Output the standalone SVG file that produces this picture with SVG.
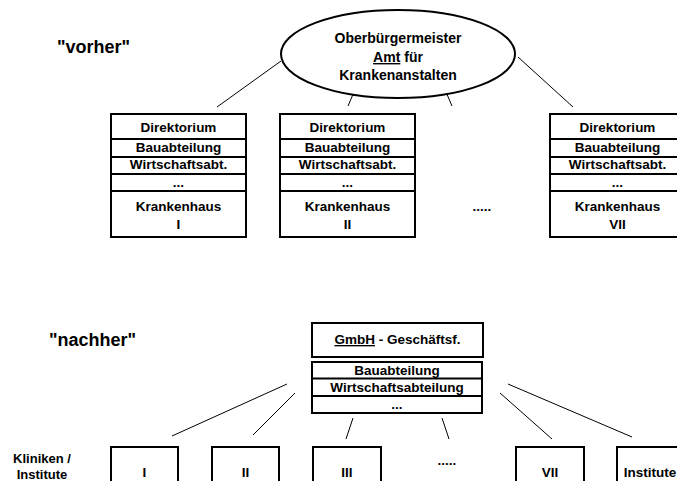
<svg xmlns="http://www.w3.org/2000/svg" width="677" height="481" viewBox="0 0 677 481">
<style>
text{font-family:"Liberation Sans",Arial,sans-serif;font-weight:bold;fill:#000;text-anchor:middle}
.t{font-size:13.5px}
.h{font-size:18px;text-anchor:start}
.box{fill:#fff;stroke:#000;stroke-width:2}
.row{stroke:#000;stroke-width:2}
.c{stroke:#000;stroke-width:1;fill:none}
</style>
<rect width="677" height="481" fill="#fff"/>
<text class="h" x="57" y="53">"vorher"</text>
<text class="h" x="49" y="346">"nachher"</text>
<g id="connectors">
<line class="c" x1="281" y1="61" x2="217" y2="107"/>
<line class="c" x1="357" y1="85" x2="348" y2="106"/>
<line class="c" x1="443" y1="85" x2="452" y2="106"/>
<line class="c" x1="518" y1="57" x2="573" y2="107"/>
<line class="c" x1="287" y1="384" x2="172" y2="436"/>
<line class="c" x1="295" y1="393" x2="253" y2="435"/>
<line class="c" x1="353" y1="418" x2="346" y2="439"/>
<line class="c" x1="442" y1="418" x2="449" y2="439"/>
<line class="c" x1="500" y1="393" x2="552" y2="439"/>
<line class="c" x1="508" y1="384" x2="632" y2="437"/>
</g>
<g id="amt">
<ellipse cx="398" cy="54" rx="117" ry="44" fill="#fff" stroke="#000" stroke-width="2"/>
<text class="t" x="398" y="43" style="font-size:14px">Oberbürgermeister</text>
<text class="t" x="398" y="62" style="font-size:14px"><tspan text-decoration="underline">Amt</tspan> für</text>
<text class="t" x="398" y="80" style="font-size:14px">Krankenanstalten</text>
</g>
<g id="kh1">
<rect class="box" x="111" y="114" width="135" height="123"/>
<line class="row" x1="111" y1="139" x2="246" y2="139"/>
<line class="row" x1="111" y1="157" x2="246" y2="157"/>
<line class="row" x1="111" y1="174" x2="246" y2="174"/>
<line class="row" x1="111" y1="191" x2="246" y2="191"/>
<text class="t" x="178.5" y="132">Direktorium</text>
<text class="t" x="178.5" y="152">Bauabteilung</text>
<text class="t" x="178.5" y="169">Wirtschaftsabt.</text>
<text class="t" x="178.5" y="187">...</text>
<text class="t" x="178.5" y="211">Krankenhaus</text>
<text class="t" x="178.5" y="229">I</text>
</g>
<g id="kh2">
<rect class="box" x="280" y="114" width="135" height="123"/>
<line class="row" x1="280" y1="139" x2="415" y2="139"/>
<line class="row" x1="280" y1="157" x2="415" y2="157"/>
<line class="row" x1="280" y1="174" x2="415" y2="174"/>
<line class="row" x1="280" y1="191" x2="415" y2="191"/>
<text class="t" x="347.5" y="132">Direktorium</text>
<text class="t" x="347.5" y="152">Bauabteilung</text>
<text class="t" x="347.5" y="169">Wirtschaftsabt.</text>
<text class="t" x="347.5" y="187">...</text>
<text class="t" x="347.5" y="211">Krankenhaus</text>
<text class="t" x="347.5" y="229">II</text>
</g>
<g id="khdots"><text class="t" x="482" y="211">.....</text></g>
<g id="kh7">
<rect class="box" x="550" y="114" width="135" height="123"/>
<line class="row" x1="550" y1="139" x2="685" y2="139"/>
<line class="row" x1="550" y1="157" x2="685" y2="157"/>
<line class="row" x1="550" y1="174" x2="685" y2="174"/>
<line class="row" x1="550" y1="191" x2="685" y2="191"/>
<text class="t" x="617.5" y="132">Direktorium</text>
<text class="t" x="617.5" y="152">Bauabteilung</text>
<text class="t" x="617.5" y="169">Wirtschaftsabt.</text>
<text class="t" x="617.5" y="187">...</text>
<text class="t" x="617.5" y="211">Krankenhaus</text>
<text class="t" x="617.5" y="229">VII</text>
</g>
<g id="gmbh">
<rect class="box" x="312" y="323" width="171" height="34"/>
<text class="t" x="397.5" y="344"><tspan text-decoration="underline">GmbH</tspan> - Geschäftsf.</text>
</g>
<g id="abteilungen">
<rect class="box" x="312" y="362" width="170" height="51"/>
<line class="row" x1="312" y1="378.5" x2="482" y2="378.5"/>
<line class="row" x1="312" y1="396" x2="482" y2="396"/>
<text class="t" x="397" y="375">Bauabteilung</text>
<text class="t" x="397" y="392">Wirtschaftsabteilung</text>
<text class="t" x="397" y="409">...</text>
</g>
<g id="kliniken-label">
<text class="t" x="42" y="463" style="font-size:13px">Kliniken /</text>
<text class="t" x="42" y="479" style="font-size:13px">Institute</text>
</g>
<g id="k1"><rect class="box" x="111" y="447" width="67" height="50"/><text class="t" x="144.5" y="477">I</text></g>
<g id="k2"><rect class="box" x="212" y="447" width="67" height="50"/><text class="t" x="245.5" y="477">II</text></g>
<g id="k3"><rect class="box" x="313" y="447" width="68" height="50"/><text class="t" x="347" y="477">III</text></g>
<g id="kdots"><text class="t" x="447" y="465">.....</text></g>
<g id="k7"><rect class="box" x="516" y="447" width="68" height="50"/><text class="t" x="550" y="477">VII</text></g>
<g id="inst"><rect class="box" x="617" y="447" width="67" height="50"/><text class="t" x="650" y="477">Institute</text></g>
</svg>
